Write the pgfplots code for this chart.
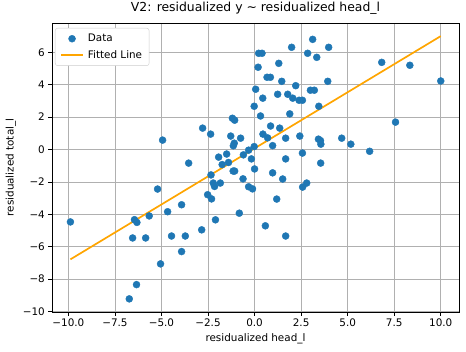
\documentclass[border=0pt]{standalone}
\usepackage{pgfplots}
\pgfplotsset{compat=1.18}
\usepackage{fontspec}
\setmainfont{DejaVu Sans}
\definecolor{tabblue}{HTML}{1F77B4}
\definecolor{mplorange}{HTML}{FFA500}
\definecolor{gridgray}{HTML}{B0B0B0}
\definecolor{legedge}{HTML}{CCCCCC}
\pgfplotsset{
  markleg/.style={legend image code/.code={\draw[mark repeat=2,mark phase=2,##1] plot coordinates {(0pt,0pt) (11pt,0pt) (22pt,0pt)};}},
  lineleg/.style={legend image code/.code={\draw[##1] (0pt,0pt) -- (22pt,0pt);}},
}
\begin{document}
\begin{tikzpicture}
\useasboundingbox (-52pt,-40pt) rectangle (414pt,312pt);
\begin{axis}[
  name=ax,
  scale only axis,
  width=407pt, height=289pt,
  xmin=-10.88, xmax=10.98,
  ymin=-10.03, ymax=7.81,
  xtick={-10,-7.5,-5,-2.5,0,2.5,5,7.5,10},
  xticklabels={−10.0,−7.5,−5.0,−2.5,0.0,2.5,5.0,7.5,10.0},
  ytick={-10,-8,-6,-4,-2,0,2,4,6},
  yticklabels={−10,−8,−6,−4,−2,0,2,4,6},
  tick align=outside,
  major tick length=3.6pt,
  xtick pos=left, ytick pos=left,
  tick style={black, line width=0.8pt},
  grid=major,
  major grid style={gridgray, line width=0.8pt},
  axis line style={black, line width=0.8pt},
  ticklabel style={font=\fontsize{10.4}{12}\selectfont},
  title={V2: residualized y \textasciitilde{} residualized head\_l},
  title style={font=\fontsize{12.4}{14}\selectfont, yshift=-1pt},
  xlabel={residualized head\_l},
  ylabel={residualized total\_l},
  label style={font=\fontsize{10.4}{12}\selectfont},
  legend style={at={(0,1)}, anchor=north west, xshift=3pt, yshift=-5pt,
    draw=legedge, rounded corners=2.5pt, fill=white,
    font=\fontsize{10.4}{12}\selectfont, row sep=3pt, inner xsep=5pt, inner ysep=4pt,
    /tikz/every odd column/.append style={column sep=2pt}},
  legend cell align=left,
]
\addplot[only marks, mark=*, mark size=3.5pt, draw=tabblue, fill=tabblue, markleg] coordinates {
(-9.89,-4.47) (-6.73,-9.22) (-6.55,-5.46) (-6.45,-4.33) (-6.34,-8.34)
(-6.32,-4.50) (-5.85,-5.46) (-5.66,-4.10) (-5.21,-2.44) (-5.05,-7.06)
(-4.94,0.58) (-4.67,-3.84) (-4.46,-5.34) (-3.92,-3.41) (-3.92,-6.30)
(-3.72,-5.34) (-3.54,-0.84) (-2.84,-4.96) (-2.79,1.32) (-2.52,-2.79)
(-2.36,0.95) (-2.34,-1.57) (-2.31,-3.05) (-2.22,-2.07) (-2.15,-2.28)
(-2.10,-4.34) (-1.93,-0.47) (-1.84,-2.07) (-1.74,-0.93) (-1.50,-0.28)
(-1.40,-0.80) (-1.28,0.83) (-1.19,1.93) (-1.15,-1.33) (-1.07,1.81)
(-1.07,-1.33) (-1.09,0.39) (-1.14,0.23) (-0.82,-3.93) (-0.75,0.70)
(-0.62,-1.81) (-0.60,-0.33) (-0.32,-0.04) (-0.32,-2.30) (-0.17,-0.58)
(-0.11,-2.43) (0.00,-1.20) (-0.02,2.67) (-0.02,0.18) (0.06,3.72)
(0.19,5.08) (0.22,5.94) (0.40,5.94) (0.32,2.07) (0.44,3.17)
(0.45,0.95) (0.58,-4.71) (0.67,4.46) (0.85,4.46) (0.70,0.72)
(0.86,1.45) (0.97,0.24) (0.97,-1.44) (1.19,-3.06) (1.24,3.41)
(1.30,5.32) (1.35,1.32) (1.46,4.21) (1.51,-1.82) (1.67,0.70)
(1.67,-0.58) (1.67,-5.34) (1.78,3.41) (1.89,2.20) (1.99,6.31)
(2.05,3.17) (2.21,3.94) (2.39,3.04) (2.57,3.04) (2.43,0.83)
(2.57,-0.22) (2.58,-2.32) (2.80,-2.07) (2.85,5.94) (3.00,3.66)
(3.21,3.66) (3.12,6.80) (3.34,5.69) (3.45,2.67) (3.43,0.64)
(3.54,0.55) (3.56,0.33) (3.55,-0.84) (3.93,4.21) (3.98,6.31)
(4.68,0.70) (5.17,0.33) (6.18,-0.11) (6.83,5.38) (7.57,1.69)
(8.34,5.20) (10.00,4.23)
};
\addlegendentry{Data}
\addplot[no marks, draw=mplorange, line width=1.7pt, lineleg] coordinates {
(-9.89,-6.78) (10.00,7.00)
};
\addlegendentry{Fitted Line}
\end{axis}
\end{tikzpicture}
\end{document}
